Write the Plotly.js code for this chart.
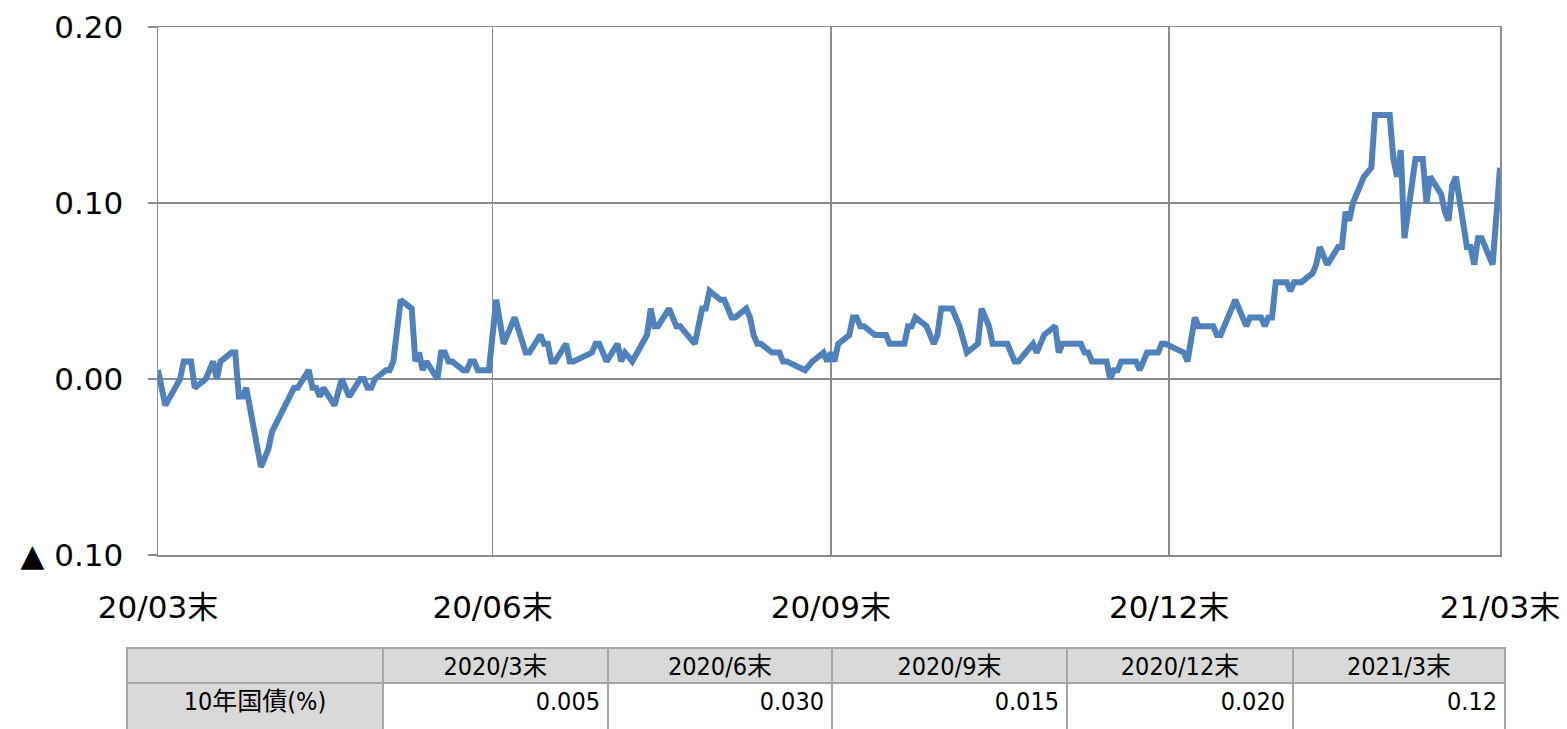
<!DOCTYPE html>
<html>
<head>
<meta charset="utf-8">
<script src="https://cdn.plot.ly/plotly-3.0.1.min.js"></script>
<style>
html,body{margin:0;padding:0;background:#fff;}
#chart{width:1567px;height:729px;}
</style>
</head>
<body>
<div id="chart"></div>
<script>
// 10-year JGB yield (%)
const dates = [
"2020-03-31","2020-04-02","2020-04-06","2020-04-07","2020-04-09","2020-04-10","2020-04-13","2020-04-15","2020-04-16","2020-04-17",
"2020-04-20","2020-04-21","2020-04-22","2020-04-23","2020-04-24","2020-04-28","2020-04-30","2020-05-01","2020-05-07","2020-05-08",
"2020-05-11","2020-05-12","2020-05-13","2020-05-14","2020-05-15","2020-05-18","2020-05-20","2020-05-22","2020-05-25","2020-05-26",
"2020-05-27","2020-05-28","2020-05-29","2020-06-01","2020-06-02","2020-06-03","2020-06-05","2020-06-08","2020-06-09","2020-06-10",
"2020-06-11","2020-06-12","2020-06-15","2020-06-16","2020-06-17","2020-06-18","2020-06-19","2020-06-22","2020-06-23","2020-06-24",
"2020-06-25","2020-06-26","2020-06-29","2020-06-30",
"2020-07-01","2020-07-03","2020-07-06","2020-07-09","2020-07-10","2020-07-13","2020-07-14","2020-07-15","2020-07-16","2020-07-17",
"2020-07-20","2020-07-21","2020-07-22","2020-07-27","2020-07-28","2020-07-29","2020-07-31","2020-08-03","2020-08-04","2020-08-05",
"2020-08-07","2020-08-11","2020-08-12","2020-08-13","2020-08-14","2020-08-17","2020-08-19","2020-08-20","2020-08-24","2020-08-26",
"2020-08-27","2020-08-28","2020-08-31","2020-09-01","2020-09-03","2020-09-04","2020-09-07","2020-09-08","2020-09-09","2020-09-10",
"2020-09-11","2020-09-14","2020-09-16","2020-09-17","2020-09-18","2020-09-23","2020-09-25","2020-09-28","2020-09-29","2020-09-30",
"2020-10-01","2020-10-02","2020-10-05","2020-10-06","2020-10-07","2020-10-08","2020-10-09","2020-10-12","2020-10-15","2020-10-16",
"2020-10-20","2020-10-21","2020-10-22","2020-10-23","2020-10-26","2020-10-28","2020-10-29","2020-10-30","2020-11-02","2020-11-04",
"2020-11-06","2020-11-09","2020-11-10","2020-11-12","2020-11-13","2020-11-17","2020-11-19","2020-11-20","2020-11-24","2020-11-25",
"2020-11-27","2020-11-30","2020-12-01","2020-12-02","2020-12-07","2020-12-08","2020-12-09","2020-12-10","2020-12-14","2020-12-15",
"2020-12-16","2020-12-17","2020-12-18","2020-12-22","2020-12-23","2020-12-25","2020-12-28","2020-12-29","2020-12-30",
"2021-01-04","2021-01-05","2021-01-07","2021-01-08","2021-01-12","2021-01-13","2021-01-14","2021-01-18","2021-01-21","2021-01-22",
"2021-01-25","2021-01-26","2021-01-27","2021-01-28","2021-01-29","2021-02-01","2021-02-02","2021-02-03","2021-02-05","2021-02-08",
"2021-02-09","2021-02-10","2021-02-12","2021-02-15","2021-02-16","2021-02-17","2021-02-18","2021-02-19","2021-02-22","2021-02-24",
"2021-02-25","2021-02-26","2021-03-01","2021-03-02","2021-03-03","2021-03-04","2021-03-05","2021-03-08","2021-03-10","2021-03-11",
"2021-03-12","2021-03-15","2021-03-16","2021-03-17","2021-03-18","2021-03-19","2021-03-22","2021-03-23","2021-03-24","2021-03-25",
"2021-03-26","2021-03-29","2021-03-31"
];
const yields = [
0.005,-0.015,0.000,0.010,0.010,-0.005,0.000,0.010,0.000,0.010,
0.015,0.015,-0.010,-0.010,-0.005,-0.050,-0.040,-0.030,-0.005,-0.005,
0.005,-0.005,-0.005,-0.010,-0.005,-0.015,0.000,-0.010,0.000,0.000,
-0.005,-0.005,0.000,0.005,0.005,0.010,0.045,0.040,0.010,0.015,
0.005,0.010,0.000,0.015,0.015,0.010,0.010,0.005,0.005,0.010,
0.010,0.005,0.005,0.030,
0.045,0.020,0.035,0.015,0.015,0.025,0.020,0.020,0.010,0.010,
0.020,0.010,0.010,0.015,0.020,0.020,0.010,0.020,0.010,0.015,
0.010,0.025,0.040,0.030,0.030,0.040,0.030,0.030,0.020,0.040,
0.040,0.050,0.045,0.045,0.035,0.035,0.040,0.035,0.025,0.020,
0.020,0.015,0.015,0.010,0.010,0.005,0.010,0.015,0.010,0.015,
0.010,0.020,0.025,0.035,0.035,0.030,0.030,0.025,0.025,0.020,
0.020,0.030,0.030,0.035,0.030,0.020,0.025,0.040,0.040,0.030,
0.015,0.020,0.040,0.030,0.020,0.020,0.010,0.010,0.020,0.015,
0.025,0.030,0.015,0.020,0.020,0.015,0.015,0.010,0.010,0.000,
0.005,0.005,0.010,0.010,0.005,0.015,0.015,0.020,0.020,
0.015,0.010,0.035,0.030,0.030,0.025,0.025,0.045,0.030,0.035,
0.035,0.030,0.035,0.035,0.055,0.055,0.050,0.055,0.055,0.060,
0.065,0.075,0.065,0.075,0.075,0.095,0.090,0.100,0.115,0.120,
0.150,0.150,0.150,0.125,0.115,0.130,0.080,0.125,0.125,0.100,
0.115,0.105,0.095,0.090,0.110,0.115,0.075,0.075,0.065,0.080,
0.080,0.065,0.120
];

// axis ticks
const xTickVals = ["2020-03-31","2020-06-30","2020-09-30","2020-12-31","2021-03-31"];
const xTickText = ["20/03末","20/06末","20/09末","20/12末","21/03末"];
const yTickVals = [0.20, 0.10, 0.00, -0.10];
const yTickText = ["0.20","0.10","0.00","▲ 0.10"];

// table below the chart
const tableRowLabel = "10年国債(%)";
const tableHeaders = ["2020/3末","2020/6末","2020/9末","2020/12末","2021/3末"];
const tableValues = ["0.005","0.030","0.015","0.020","0.12"];

const W = 1567, H = 729;
const gridColor = "#8C8C8C";
const tickFont = {family: "DejaVu Sans, Noto Sans CJK JP, sans-serif", size: 31, color: "#000"};
const tableFont = {family: "Liberation Sans Narrow, DejaVu Sans Condensed, Noto Sans CJK JP, sans-serif", size: 25, color: "#000"};

const lineTrace = {
  type: "scatter", mode: "lines",
  x: dates, y: yields,
  line: {color: "#4F81BD", width: 6},
  hoverinfo: "skip", showlegend: false,
  xaxis: "x", yaxis: "y"
};

const tableTrace = {
  type: "table",
  domain: {x: [127/W, 1505/W], y: [0, (H-648)/H]},
  columnwidth: [256, 225, 224, 235, 226, 212],
  header: {
    values: [""].concat(tableHeaders).map(v => [v]),
    fill: {color: "#D9D9D9"},
    line: {color: "#A6A6A6", width: 1.5},
    align: "center",
    height: 35,
    font: tableFont
  },
  cells: {
    values: [tableRowLabel].concat(tableValues).map(v => [v]),
    fill: {color: ["#D9D9D9"].concat(tableValues.map(() => "#FFFFFF")).map(c => [c])},
    line: {color: "#A6A6A6", width: 1.5},
    align: ["center"].concat(tableValues.map(() => "right")),
    height: 56,
    font: tableFont
  }
};

const layout = {
  width: W, height: H,
  margin: {l: 0, r: 0, t: 0, b: 0},
  paper_bgcolor: "#fff", plot_bgcolor: "#fff",
  showlegend: false,
  xaxis: {
    type: "date",
    domain: [158/W, 1500/W],
    range: ["2020-03-31", "2021-03-31"],
    tickmode: "array", tickvals: xTickVals, ticktext: xTickText,
    showgrid: true, gridcolor: gridColor, gridwidth: 1.5,
    showline: true, linecolor: gridColor, linewidth: 1.5, mirror: true,
    zeroline: false, ticks: "",
    tickfont: tickFont, ticklabelstandoff: 24,
    fixedrange: true
  },
  yaxis: {
    domain: [(H-555)/H, (H-27)/H],
    range: [-0.1, 0.2],
    tickmode: "array", tickvals: yTickVals, ticktext: yTickText,
    showgrid: true, gridcolor: gridColor, gridwidth: 1.5,
    showline: true, linecolor: gridColor, linewidth: 1.5, mirror: true,
    zeroline: false, ticks: "outside", ticklen: 9, tickcolor: gridColor, tickwidth: 1.5,
    tickfont: tickFont, ticklabelstandoff: 18,
    fixedrange: true
  }
};

Plotly.newPlot("chart", [lineTrace, tableTrace], layout, {staticPlot: true, displayModeBar: false});
</script>
</body>
</html>
